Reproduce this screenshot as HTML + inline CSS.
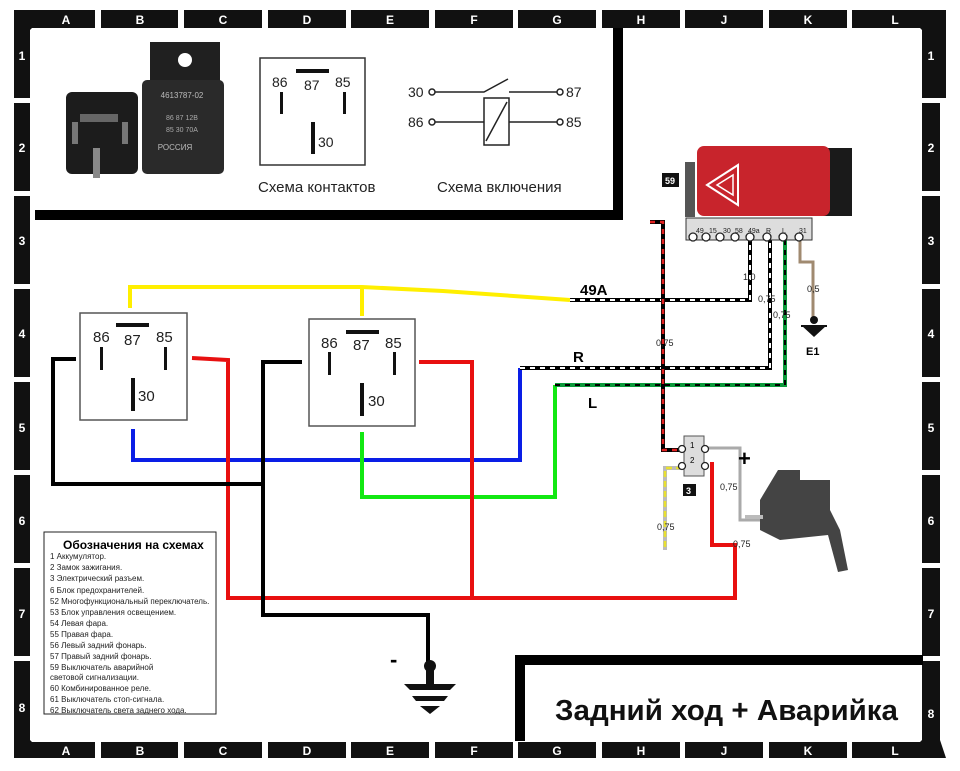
<!DOCTYPE html>
<html><head><meta charset="utf-8"><style>
html,body{margin:0;padding:0;background:#fff;width:960px;height:771px;overflow:hidden}
svg{display:block}
text{font-family:"Liberation Sans",sans-serif}
</style></head><body>
<svg width="960" height="771" viewBox="0 0 960 771" xmlns="http://www.w3.org/2000/svg">
<rect width="960" height="771" fill="#fff"/>
<g fill="#111">
<polygon points="14,10 95,10 95,28 32,28 30,30 30,98 14,98"/>
<rect x="101" y="10" width="77" height="18"/><rect x="184" y="10" width="78" height="18"/><rect x="268" y="10" width="78" height="18"/><rect x="351" y="10" width="78" height="18"/><rect x="435" y="10" width="78" height="18"/><rect x="518" y="10" width="78" height="18"/><rect x="602" y="10" width="78" height="18"/><rect x="685" y="10" width="78" height="18"/><rect x="769" y="10" width="78" height="18"/>
<polygon points="852,10 946,10 946,98 922,98 922,30 920,28 852,28"/>
<rect x="14" y="103" width="16" height="88"/><rect x="14" y="196" width="16" height="88"/><rect x="14" y="289" width="16" height="88"/><rect x="14" y="382" width="16" height="88"/><rect x="14" y="475" width="16" height="88"/><rect x="14" y="568" width="16" height="88"/>
<polygon points="14,661 30,661 30,740 32,742 95,742 95,758 14,758"/>
<rect x="922" y="103" width="18" height="88"/><rect x="922" y="196" width="18" height="88"/><rect x="922" y="289" width="18" height="88"/><rect x="922" y="382" width="18" height="88"/><rect x="922" y="475" width="18" height="88"/><rect x="922" y="568" width="18" height="88"/>
<polygon points="922,661 940,661 940,740 946,758 852,758 852,742 920,742 922,740"/>
<rect x="101" y="742" width="77" height="16"/><rect x="184" y="742" width="78" height="16"/><rect x="268" y="742" width="78" height="16"/><rect x="351" y="742" width="78" height="16"/><rect x="435" y="742" width="78" height="16"/><rect x="518" y="742" width="78" height="16"/><rect x="602" y="742" width="78" height="16"/><rect x="685" y="742" width="78" height="16"/><rect x="769" y="742" width="78" height="16"/>
</g>
<g fill="#fff" font-size="12" font-weight="bold" text-anchor="middle">
<text x="66" y="24">A</text><text x="140" y="24">B</text><text x="223" y="24">C</text><text x="307" y="24">D</text><text x="390" y="24">E</text><text x="474" y="24">F</text><text x="557" y="24">G</text><text x="641" y="24">H</text><text x="724" y="24">J</text><text x="808" y="24">K</text><text x="895" y="24">L</text>
<text x="66" y="755">A</text><text x="140" y="755">B</text><text x="223" y="755">C</text><text x="307" y="755">D</text><text x="390" y="755">E</text><text x="474" y="755">F</text><text x="557" y="755">G</text><text x="641" y="755">H</text><text x="724" y="755">J</text><text x="808" y="755">K</text><text x="895" y="755">L</text>
<text x="22" y="60">1</text><text x="22" y="152">2</text><text x="22" y="245">3</text><text x="22" y="338">4</text><text x="22" y="432">5</text><text x="22" y="525">6</text><text x="22" y="618">7</text><text x="22" y="712">8</text>
<text x="931" y="60">1</text><text x="931" y="152">2</text><text x="931" y="245">3</text><text x="931" y="338">4</text><text x="931" y="432">5</text><text x="931" y="525">6</text><text x="931" y="618">7</text><text x="931" y="718">8</text>
</g>
<rect x="35" y="210" width="588" height="10" fill="#000"/>
<rect x="613" y="28" width="10" height="192" fill="#000"/>
<g>
<rect x="66" y="92" width="72" height="82" rx="6" fill="#1c1c1c"/>
<rect x="80" y="114" width="38" height="8" fill="#666"/>
<rect x="72" y="122" width="6" height="22" fill="#777"/><rect x="122" y="122" width="6" height="22" fill="#777"/>
<rect x="93" y="148" width="7" height="30" fill="#888"/>
<rect x="150" y="42" width="70" height="45" fill="#202020"/>
<circle cx="185" cy="60" r="7" fill="#fff"/>
<rect x="142" y="80" width="82" height="94" rx="5" fill="#2a2a2a"/>
<text x="182" y="98" font-size="8" fill="#bbb" text-anchor="middle">4613787-02</text>
<text x="182" y="120" font-size="7" fill="#aaa" text-anchor="middle">86 87  12В</text>
<text x="182" y="132" font-size="7" fill="#aaa" text-anchor="middle">85 30  70А</text>
<text x="175" y="150" font-size="8" fill="#bbb" text-anchor="middle">РОССИЯ</text>
</g>
<rect x="260" y="58" width="105" height="107" fill="#fff" stroke="#333" stroke-width="1.5"/>
<rect x="296" y="69" width="33" height="4" fill="#111"/>
<g font-size="14" fill="#222"><text x="272" y="87">86</text><text x="304" y="90">87</text><text x="335" y="87">85</text><text x="318" y="147">30</text></g>
<rect x="280" y="92" width="3" height="22" fill="#111"/><rect x="343" y="92" width="3" height="22" fill="#111"/><rect x="311" y="122" width="4" height="32" fill="#111"/>
<text x="258" y="192" font-size="15" fill="#222">Схема контактов</text>
<g stroke="#222" stroke-width="1.5" fill="none">
<circle cx="432" cy="92" r="3"/><circle cx="432" cy="122" r="3"/><circle cx="560" cy="92" r="3"/><circle cx="560" cy="122" r="3"/>
<path d="M435 92H484L508 79M509 92H557M435 122H484M509 122H557"/>
<rect x="484" y="98" width="25" height="47"/><path d="M486 141L507 102"/>
</g>
<g font-size="14" fill="#222"><text x="408" y="97">30</text><text x="408" y="127">86</text><text x="566" y="97">87</text><text x="566" y="127">85</text></g>
<text x="437" y="192" font-size="15" fill="#222">Схема включения</text>
<g fill="none" stroke-width="4" stroke-linejoin="miter">
<path d="M130 308V287H362L443 291L570 300" stroke="#ffef00"/>
<path d="M362 287V316" stroke="#ffef00"/>
<path d="M133 429V460H520V368" stroke="#0a1ee6"/>
<path d="M362 432V497H555V385" stroke="#12e812"/>
<path d="M192 358L228 360V598H735V545H712V462" stroke="#e81010"/>
<path d="M419 362H472V598" stroke="#e81010"/>
<path d="M76 359H53V484H263" stroke="#000"/>
<path d="M302 362H263V615H428V665" stroke="#000"/>
<path d="M570 300H750V240" stroke="#000"/><path d="M570 300H750V240" stroke="#fff" stroke-dasharray="5 5" stroke-width="2"/>
<path d="M520 368H770V240" stroke="#000"/><path d="M520 368H770V240" stroke="#fff" stroke-dasharray="5 5" stroke-width="2"/>
<path d="M555 385H785V240" stroke="#0e9a3c"/><path d="M555 385H785V240" stroke="#000" stroke-dasharray="5 5" stroke-width="2"/>
<path d="M650 222H663V450H682" stroke="#000"/><path d="M650 222H663V450H682" stroke="#e02020" stroke-dasharray="5 5" stroke-width="2.5"/>
<path d="M682 468H665V550" stroke="#bbb"/><path d="M682 468H665V550" stroke="#e8e030" stroke-dasharray="6 4" stroke-width="2.5"/>
<path d="M702 448H740V520H770" stroke="#aaa" stroke-width="3"/>
<path d="M800 240V262H813V318" stroke="#a08a70" stroke-width="3"/>
</g>
<text x="580" y="295" font-size="15" font-weight="bold">49A</text>
<text x="573" y="362" font-size="15" font-weight="bold">R</text>
<text x="588" y="408" font-size="15" font-weight="bold">L</text>
<g font-size="9" fill="#222">
<text x="743" y="280">1,0</text><text x="758" y="302">0,75</text><text x="773" y="318">0,75</text><text x="807" y="292">0,5</text><text x="656" y="346">0,75</text><text x="657" y="530">0,75</text><text x="720" y="490">0,75</text><text x="733" y="547">0,75</text>
</g>
<circle cx="814" cy="320" r="4" fill="#111"/>
<path d="M801 325H827L814 337Z" fill="#111"/><rect x="801" y="325" width="26" height="2" fill="#111"/>
<text x="806" y="355" font-size="11" font-weight="bold">E1</text>
<rect x="685" y="162" width="10" height="55" fill="#555"/>
<rect x="820" y="148" width="32" height="68" fill="#1a1a1a"/>
<rect x="697" y="146" width="133" height="70" rx="7" fill="#c8242c"/>
<path d="M707 185L738 165V205Z" fill="none" stroke="#fff" stroke-width="2"/>
<path d="M717 185L733 175V195Z" fill="none" stroke="#fff" stroke-width="1.5"/>
<rect x="662" y="173" width="17" height="14" fill="#111"/>
<text x="665" y="184" font-size="9" fill="#fff" font-weight="bold">59</text>
<rect x="686" y="218" width="126" height="22" fill="#ddd" stroke="#333"/>
<g font-size="7" fill="#222"><text x="696" y="233">49</text><text x="709" y="233">15</text><text x="723" y="233">30</text><text x="735" y="233">58</text><text x="748" y="233">49a</text><text x="766" y="233">R</text><text x="782" y="233">L</text><text x="799" y="233">31</text></g>
<g fill="#fff" stroke="#222" stroke-width="1.3">
<circle cx="693" cy="237" r="4"/><circle cx="706" cy="237" r="4"/><circle cx="720" cy="237" r="4"/><circle cx="735" cy="237" r="4"/><circle cx="750" cy="237" r="4"/><circle cx="767" cy="237" r="4"/><circle cx="783" cy="237" r="4"/><circle cx="799" cy="237" r="4"/>
</g>
<rect x="684" y="436" width="20" height="40" fill="#ddd" stroke="#555"/>
<g fill="#fff" stroke="#222" stroke-width="1.3"><circle cx="682" cy="449" r="3.5"/><circle cx="705" cy="449" r="3.5"/><circle cx="682" cy="466" r="3.5"/><circle cx="705" cy="466" r="3.5"/></g>
<text x="690" y="448" font-size="8">1</text><text x="690" y="463" font-size="8">2</text>
<rect x="683" y="484" width="13" height="12" fill="#111"/><text x="686" y="494" font-size="9" fill="#fff" font-weight="bold">3</text>
<text x="738" y="466" font-size="22" font-weight="bold">+</text>
<path d="M778 470H800V480H830V510L840 530L848 570L838 572L828 535L780 540L760 530V500Z" fill="#444"/>
<rect x="745" y="515" width="18" height="4" fill="#bbb"/>
<text x="390" y="667" font-size="22" font-weight="bold">-</text>
<circle cx="430" cy="666" r="6" fill="#111"/>
<rect x="426" y="666" width="8" height="20" fill="#111"/>
<path d="M404 684H456L450 690H410Z" fill="#111"/>
<path d="M412 696H448L444 701H416Z" fill="#111"/>
<path d="M420 706H440L430 714Z" fill="#111"/>
<rect x="44" y="532" width="172" height="182" fill="#fff" stroke="#222" stroke-width="1"/>
<text x="63" y="549" font-size="12" font-weight="bold">Обозначения на схемах</text>
<g font-size="8" fill="#222">
<text x="50" y="559">1 Аккумулятор.</text><text x="50" y="570">2 Замок зажигания.</text><text x="50" y="581">3 Электрический разъем.</text><text x="50" y="593">6 Блок предохранителей.</text><text x="50" y="604">52 Многофункциональный переключатель.</text><text x="50" y="615">53 Блок управления освещением.</text><text x="50" y="626">54 Левая фара.</text><text x="50" y="637">55 Правая фара.</text><text x="50" y="648">56 Левый задний фонарь.</text><text x="50" y="659">57 Правый задний фонарь.</text><text x="50" y="670">59 Выключатель аварийной</text><text x="50" y="680">световой сигнализации.</text><text x="50" y="691">60 Комбинированное реле.</text><text x="50" y="702">61 Выключатель стоп-сигнала.</text><text x="50" y="713">62 Выключатель света заднего хода.</text>
</g>
<rect x="80" y="313" width="107" height="107" fill="#fff" stroke="#555" stroke-width="1.5"/>
<rect x="116" y="323" width="33" height="4" fill="#111"/>
<g font-size="15" fill="#222"><text x="93" y="342">86</text><text x="124" y="345">87</text><text x="156" y="342">85</text><text x="138" y="401">30</text></g>
<rect x="100" y="347" width="3" height="23" fill="#111"/><rect x="164" y="347" width="3" height="23" fill="#111"/><rect x="131" y="378" width="4" height="33" fill="#111"/>
<rect x="309" y="319" width="106" height="107" fill="#fff" stroke="#555" stroke-width="1.5"/>
<rect x="346" y="330" width="33" height="4" fill="#111"/>
<g font-size="15" fill="#222"><text x="321" y="348">86</text><text x="353" y="350">87</text><text x="385" y="348">85</text><text x="368" y="406">30</text></g>
<rect x="328" y="352" width="3" height="23" fill="#111"/><rect x="393" y="352" width="3" height="23" fill="#111"/><rect x="360" y="383" width="4" height="33" fill="#111"/>
<rect x="515" y="655" width="408" height="10" fill="#000"/>
<rect x="515" y="655" width="10" height="86" fill="#000"/>
<text x="555" y="720" font-size="29" font-weight="bold" fill="#111" textLength="343" lengthAdjust="spacingAndGlyphs">Задний ход + Аварийка</text>
</svg>
</body></html>
